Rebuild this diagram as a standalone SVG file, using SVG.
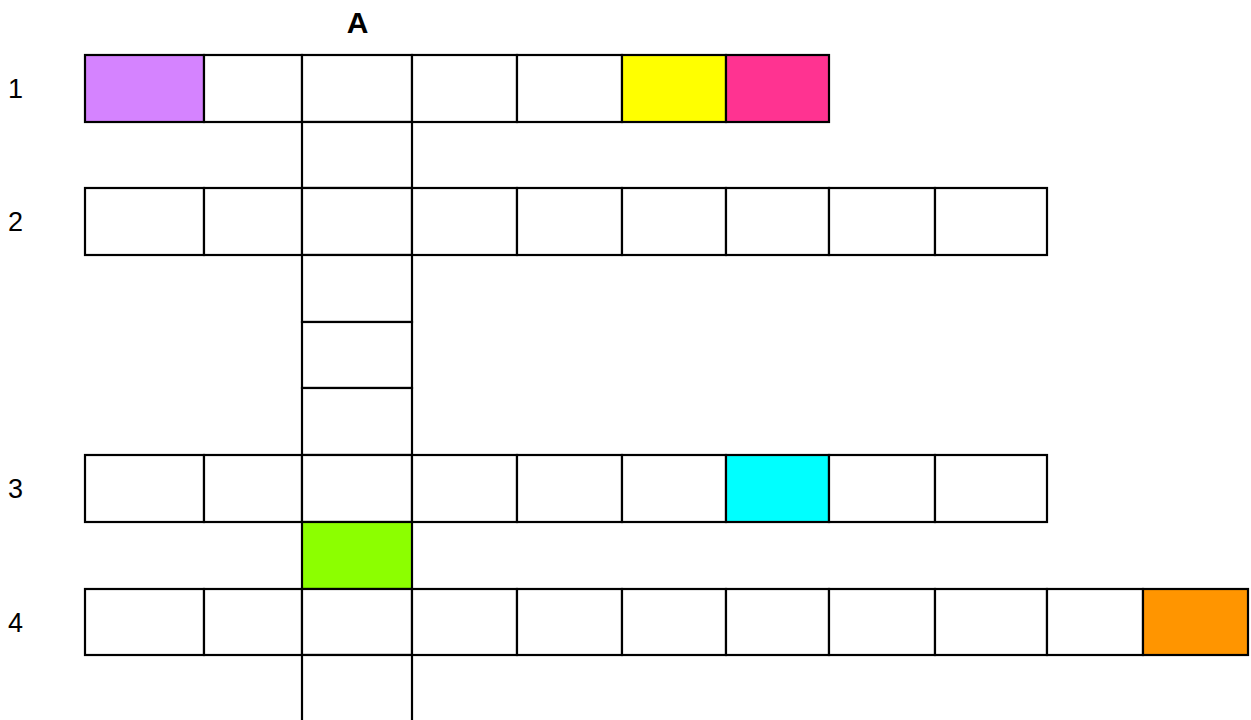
<svg xmlns="http://www.w3.org/2000/svg" width="1251" height="720" viewBox="0 0 1251 720">
<style>
.c{fill:#fff;stroke:#000;stroke-width:2.2}
.lbl{font-family:"Liberation Sans",Arial,sans-serif;font-size:27px;fill:#000}
.hd{font-family:"Liberation Sans",Arial,sans-serif;font-size:30px;font-weight:bold;fill:#000}
</style>
<rect width="1251" height="720" fill="#fff"/>
<g id="labels">
<text class="hd" x="357.5" y="33" text-anchor="middle">A</text>
<text class="lbl" x="8" y="98">1</text>
<text class="lbl" x="8" y="231">2</text>
<text class="lbl" x="8" y="498">3</text>
<text class="lbl" x="8" y="632">4</text>
</g>
<g id="row1">
<g id="r1c1"><rect class="c" x="85" y="55" width="119" height="67" style="fill:#d583ff"/></g>
<g id="r1c2"><rect class="c" x="204" y="55" width="98" height="67"/></g>
<g id="r1c3"><rect class="c" x="302" y="55" width="110" height="67"/></g>
<g id="r1c4"><rect class="c" x="412" y="55" width="105" height="67"/></g>
<g id="r1c5"><rect class="c" x="517" y="55" width="105" height="67"/></g>
<g id="r1c6"><rect class="c" x="622" y="55" width="104" height="67" style="fill:#ffff00"/></g>
<g id="r1c7"><rect class="c" x="726" y="55" width="103" height="67" style="fill:#ff3391"/></g>
</g>
<g id="colA1"><rect class="c" x="302" y="122" width="110" height="66"/></g>
<g id="row2">
<g id="r2c1"><rect class="c" x="85" y="188" width="119" height="67"/></g>
<g id="r2c2"><rect class="c" x="204" y="188" width="98" height="67"/></g>
<g id="r2c3"><rect class="c" x="302" y="188" width="110" height="67"/></g>
<g id="r2c4"><rect class="c" x="412" y="188" width="105" height="67"/></g>
<g id="r2c5"><rect class="c" x="517" y="188" width="105" height="67"/></g>
<g id="r2c6"><rect class="c" x="622" y="188" width="104" height="67"/></g>
<g id="r2c7"><rect class="c" x="726" y="188" width="103" height="67"/></g>
<g id="r2c8"><rect class="c" x="829" y="188" width="106" height="67"/></g>
<g id="r2c9"><rect class="c" x="935" y="188" width="112" height="67"/></g>
</g>
<g id="colA2"><rect class="c" x="302" y="255" width="110" height="67"/></g>
<g id="colA3"><rect class="c" x="302" y="322" width="110" height="66"/></g>
<g id="colA4"><rect class="c" x="302" y="388" width="110" height="67"/></g>
<g id="row3">
<g id="r3c1"><rect class="c" x="85" y="455" width="119" height="67"/></g>
<g id="r3c2"><rect class="c" x="204" y="455" width="98" height="67"/></g>
<g id="r3c3"><rect class="c" x="302" y="455" width="110" height="67"/></g>
<g id="r3c4"><rect class="c" x="412" y="455" width="105" height="67"/></g>
<g id="r3c5"><rect class="c" x="517" y="455" width="105" height="67"/></g>
<g id="r3c6"><rect class="c" x="622" y="455" width="104" height="67"/></g>
<g id="r3c7"><rect class="c" x="726" y="455" width="103" height="67" style="fill:#00ffff"/></g>
<g id="r3c8"><rect class="c" x="829" y="455" width="106" height="67"/></g>
<g id="r3c9"><rect class="c" x="935" y="455" width="112" height="67"/></g>
</g>
<g id="colA5"><rect class="c" x="302" y="522" width="110" height="67" style="fill:#8cff00"/></g>
<g id="row4">
<g id="r4c1"><rect class="c" x="85" y="589" width="119" height="66"/></g>
<g id="r4c2"><rect class="c" x="204" y="589" width="98" height="66"/></g>
<g id="r4c3"><rect class="c" x="302" y="589" width="110" height="66"/></g>
<g id="r4c4"><rect class="c" x="412" y="589" width="105" height="66"/></g>
<g id="r4c5"><rect class="c" x="517" y="589" width="105" height="66"/></g>
<g id="r4c6"><rect class="c" x="622" y="589" width="104" height="66"/></g>
<g id="r4c7"><rect class="c" x="726" y="589" width="103" height="66"/></g>
<g id="r4c8"><rect class="c" x="829" y="589" width="106" height="66"/></g>
<g id="r4c9"><rect class="c" x="935" y="589" width="112" height="66"/></g>
<g id="r4c10"><rect class="c" x="1047" y="589" width="96" height="66"/></g>
<g id="r4c11"><rect class="c" x="1143" y="589" width="105" height="66" style="fill:#ff9500"/></g>
</g>
<g id="colA6"><rect class="c" x="302" y="655" width="110" height="70"/></g>
<g id="connectors"></g>
</svg>
